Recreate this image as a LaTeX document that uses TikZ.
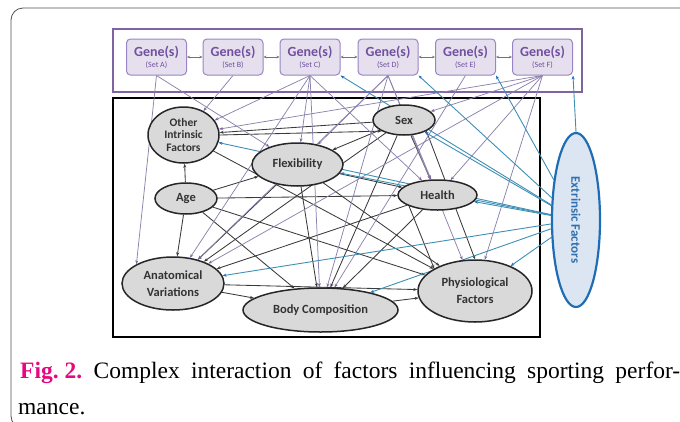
\documentclass[tikz,border=0pt]{standalone}
\usepackage{fontspec}
\setmainfont{Liberation Serif}
\newfontfamily\calfont{Carlito}
\usetikzlibrary{shapes.geometric,arrows.meta,backgrounds}
\definecolor{framec}{HTML}{505050}
\definecolor{purp}{HTML}{8064A2}
\definecolor{genefill}{HTML}{E6E0EE}
\definecolor{genebord}{HTML}{9A84C4}
\definecolor{genetext}{HTML}{7050A0}
\definecolor{genline}{HTML}{8C82AE}
\definecolor{ellgray}{HTML}{D9D9D9}
\definecolor{darkline}{HTML}{3A3A3A}
\definecolor{extline}{HTML}{3D8FB4}
\definecolor{extbord}{HTML}{1F6DB4}
\definecolor{extfill}{HTML}{DCE6F2}
\definecolor{exttext}{HTML}{2E70B0}
\definecolor{figpink}{HTML}{E5087E}
\begin{document}
\frenchspacing
\begin{tikzpicture}[x=1pt,y=-1pt,
  genebox/.style={draw=genebord, fill=genefill, line width=1pt, rounded corners=4pt,
    minimum width=60pt, minimum height=36pt, inner sep=0pt, align=center, text=genetext},
  ell/.style={ellipse, draw=black!85, line width=1.5pt, fill=ellgray, inner sep=0pt,
    font=\calfont\bfseries\fontsize{12.5}{13.5}\selectfont, text=black!80, align=center},
  gg/.style={draw=black!55, line width=0.7pt, {Stealth[length=3pt,width=2.5pt]}-{Stealth[length=3pt,width=2.5pt]}},
  blk/.style={draw=darkline, line width=0.85pt, -{Stealth[length=4pt,width=3pt]}},
  gen/.style={draw=genline, line width=0.75pt, -{Stealth[length=4pt,width=3pt,color=purp]}},
  exl/.style={draw=extline, line width=0.9pt, -{Stealth[length=4pt,width=3pt,color=extbord]}},
  captxt/.style={inner sep=0pt, anchor=base west, font=\fontsize{23.5}{28}\selectfont}
]
\useasboundingbox (0,0) rectangle (680,421);
\begin{scope}
\clip (0,0) rectangle (680,421);
\draw[framec, line width=0.8pt, rounded corners=12pt] (690,8) -- (11,8) -- (11,428) -- (40,428);
\end{scope}

% gene boxes
\foreach \n/\x/\s in {gA/156.5/A, gB/233/B, gC/310/C, gD/388/D, gE/465.5/E, gF/542.5/F}{
  \node[genebox] (\n) at (\x,57) {{\calfont\bfseries\fontsize{14}{14.5}\selectfont Gene(s)}\\[-1pt]{\calfont\fontsize{8}{9}\selectfont (Set \s)}};
}

% factor ellipses
\node[ell, minimum width=71pt, minimum height=56pt, font=\calfont\bfseries\fontsize{11.5}{12.5}\selectfont] (oth) at (183.5,135) {Other\\Intrinsic\\Factors};
\node[ell, minimum width=62pt, minimum height=31pt] (age) at (186,198.5) {Age};
\node[ell, minimum width=91pt, minimum height=43pt] (flex) at (297.5,164.5) {Flexibility};
\node[ell, minimum width=62pt, minimum height=30pt] (sex) at (404,120) {Sex};
\node[ell, minimum width=79pt, minimum height=30pt] (hlth) at (437.5,195) {Health};
\node[ell, minimum width=102pt, minimum height=53pt, font=\calfont\bfseries\fontsize{12.5}{17}\selectfont] (anat) at (173,283.5) {Anatomical\\Variations};
\node[ell, minimum width=155pt, minimum height=44pt] (body) at (320.5,310) {Body Composition};
\node[ell, minimum width=114pt, minimum height=62pt, font=\calfont\bfseries\fontsize{12.5}{17}\selectfont] (phys) at (475,291) {Physiological\\Factors};
\node[ellipse, draw=extbord, fill=extfill, line width=2.2pt, inner sep=0pt,
  minimum width=174pt, minimum height=48pt, rotate=-90, text=exttext,
  font=\calfont\bfseries\fontsize{13}{14}\selectfont] (ext) at (576,220) {Extrinsic Factors};

% caption
\node[captxt] (cap1) at (20,378) {\makebox[660pt][s]{\textcolor{figpink}{\textbf{Fig.\kern6pt2.}} Complex interaction of factors influencing sporting perfor-}};
\node[captxt] (cap2) at (18,414) {mance.};

\begin{scope}[on background layer]
\draw[purp, line width=2.6pt] (113,29) rectangle (582,92);
\draw[black, line width=2.6pt] (113,98) rectangle (540,337);

% gene to gene
\draw[gg] (gA) -- (gB);
\draw[gg] (gB) -- (gC);
\draw[gg] (gC) -- (gD);
\draw[gg] (gD) -- (gE);
\draw[gg] (gE) -- (gF);

% intrinsic links
\draw[blk] (age) -- (oth);
\draw[blk] (age) -- (anat);
\draw[blk] (age) -- (hlth);
\draw[blk] (age) -- (flex);
\draw[blk] (age) -- (body);
\draw[blk] (age) -- (phys);
\draw[blk] (sex) -- (oth);
\draw[blk] (sex) -- (flex);
\draw[blk] (sex) -- (hlth);
\draw[blk] (sex) -- (anat);
\draw[blk] (sex) -- (body);
\draw[blk] (sex.south east) -- (phys.north);
\draw[blk] (oth) -- (phys);
\draw[blk] (oth.east) -- (sex.south west);
\draw[blk] (flex) -- (hlth);
\draw[blk] (flex) -- (phys);
\draw[blk] (flex) -- (body);
\draw[blk] (flex) -- (anat);
\draw[blk] (hlth) -- (anat);
\draw[blk] (hlth) -- (body);
\draw[blk] (hlth.south west) -- (phys.north west);
\draw[blk] (anat) -- (phys);
\draw[blk] (anat) -- (body);
\draw[blk] (body) -- (phys);

% gene links
\draw[gen] (gA.south) -- (anat.north west);
\draw[gen] (gA.south) -- (flex);
\draw[gen] (gB.south) -- (oth);
\draw[gen] (gC.south) -- (oth);
\draw[gen] (gC.south) -- (flex);
\draw[gen] (gC.south) -- (anat);
\draw[gen] (gC.south) -- (body);
\draw[gen] (gC.south) -- (hlth);
\draw[gen] (gD.south) -- (flex);
\draw[gen] (gD.south) -- (anat);
\draw[gen] (gD.south) -- (body);
\draw[gen] (gD.south) -- (hlth);
\draw[gen] (gD.south) -- (phys);
\draw[gen] (gE.south) -- (body);
\draw[gen] (gF.south) -- (oth);
\draw[gen] (gF.south) -- (sex);
\draw[gen] (gF.south) -- (hlth);
\draw[gen] (gF.south) -- (phys);
\draw[gen] (gF.south) -- (anat);

% extrinsic links
\draw[exl] (ext) -- (gC.south east);
\draw[exl] (ext) -- (gD.south east);
\draw[exl] (ext) -- (gE.south east);
\draw[exl] (ext.west) -- (gF.south east);
\draw[exl] (ext) -- (oth);
\draw[exl] (ext) -- (flex);
\draw[exl] (ext) -- (hlth);
\draw[exl] (ext) -- (anat);
\draw[exl] (ext) -- (body);
\draw[exl] (ext) -- (phys);
\draw[exl] (ext) -- (sex);
\end{scope}
\end{tikzpicture}
\end{document}
